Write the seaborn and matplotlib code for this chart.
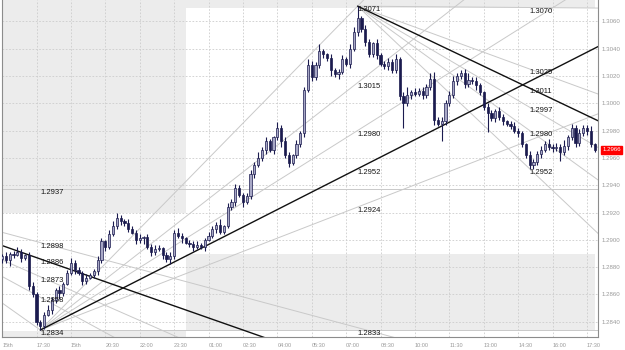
import numpy as np
import pandas as pd
import matplotlib
matplotlib.use("Agg")
import matplotlib.pyplot as plt
from matplotlib.patches import Rectangle
import seaborn as sns

# ---------------- data ----------------
bar_step_hours = 1 / 6          # 10-minute candles, time in hours from 16:00 (14th)
base_price = 1.2800
first_open_pips = 86
closes_pips = [
    88, 85, 90, 89, 91, 87, 89, 66, 60, 40,
    37, 45, 49, 56, 63, 61, 68, 76, 83, 78,
    76, 70, 72, 74, 77, 85, 99, 95, 104, 110,
    116, 114, 112, 108, 105, 100, 101, 102, 95, 91,
    93, 94, 89, 86, 88, 105, 103, 101, 98, 97,
    95, 96, 95, 100, 103, 108, 111, 106, 110, 124,
    128, 138, 133, 128, 132, 148, 155, 160, 166, 172,
    166, 175, 182, 172, 162, 156, 162, 170, 178, 210,
    228, 219, 228, 238, 236, 233, 224, 221, 223, 232,
    229, 240, 252, 262, 254, 245, 236, 244, 235, 229,
    227, 230, 224, 232, 205, 200, 206, 208, 207, 209,
    206, 212, 218, 188, 185, 187, 200, 206, 216, 220,
    222, 214, 217, 216, 213, 208, 197, 193, 189, 194,
    190, 187, 185, 183, 180, 178, 170, 162, 155, 157,
    163, 166, 170, 168, 167, 168, 164, 169, 175, 182,
    171, 178, 182, 180, 170, 166]
wick_up_pips = [
    2, 3, 1, 2, 4, 2, 1, 2, 3, 2, 1, 2, 3, 2, 2, 3, 1, 2, 4, 2,
    2, 1, 3, 2, 2, 3, 2, 1, 3, 4, 4, 2, 1, 3, 2, 2, 3, 1, 2, 2,
    3, 2, 1, 2, 3, 2, 4, 2, 1, 2, 2, 3, 2, 1, 3, 2, 2, 4, 1, 3,
    2, 3, 2, 1, 2, 3, 2, 4, 2, 3, 2, 1, 4, 2, 3, 2, 1, 3, 2, 2,
    4, 3, 2, 5, 2, 1, 3, 2, 2, 3, 2, 3, 4, 9, 2, 3, 2, 1, 3, 2,
    2, 3, 2, 4, 2, 3, 6, 2, 3, 2, 3, 2, 4, 5, 2, 3, 2, 3, 4, 2,
    2, 3, 5, 2, 3, 2, 1, 3, 2, 2, 3, 2, 1, 2, 3, 2, 2, 1, 3, 2,
    2, 3, 2, 4, 2, 3, 2, 4, 2, 3, 2, 3, 2, 2, 3, 1]
wick_dn_pips = [
    3, 2, 4, 2, 1, 3, 2, 3, 2, 2, 3, 2, 1, 3, 2, 4, 2, 1, 2, 3,
    2, 3, 2, 1, 2, 3, 2, 3, 2, 1, 2, 3, 2, 2, 1, 3, 2, 4, 2, 3,
    2, 1, 3, 2, 4, 2, 2, 3, 1, 2, 3, 2, 2, 3, 1, 2, 3, 2, 2, 1,
    2, 3, 2, 4, 2, 2, 3, 2, 2, 3, 2, 3, 2, 4, 2, 3, 1, 2, 2, 3,
    2, 3, 2, 2, 3, 2, 4, 2, 3, 2, 2, 3, 2, 3, 2, 3, 2, 2, 3, 2,
    2, 3, 2, 2, 3, 18, 2, 3, 2, 2, 3, 2, 2, 4, 2, 13, 3, 2, 2, 3,
    2, 3, 2, 2, 3, 2, 2, 14, 2, 3, 2, 3, 2, 2, 2, 3, 2, 2, 3, 3,
    2, 3, 2, 2, 3, 2, 6, 2, 3, 2, 3, 2, 2, 3, 2, 2]

xtick_hours = [0, 1.5, 3, 4.5, 6, 7.5, 9, 10.5, 12, 13.5, 15, 16.5, 18,
               19.5, 21, 22.5, 24, 25.5]
xtick_labels = ["15th", "17:30", "15th", "20:30", "22:00", "23:30", "01:00",
                "02:30", "04:00", "05:30", "07:00", "08:30", "10:00", "11:30",
                "13:00", "14:30", "16:00", "17:30"]
ytick_values = [1.2840, 1.2860, 1.2880, 1.2900, 1.2920, 1.2940, 1.2960,
                1.2980, 1.3000, 1.3020, 1.3040, 1.3060]
last_price_text = "1.2966"
last_price = 1.2966

# fans: origin (time, price), time of next swing, level prices at that time
fan_c_origin = (-7.0, 1.2937)
fan_c_target_time = 1.667
fan_c_levels = [1.2937, 1.2898, 1.2886, 1.2873, 1.2858, 1.2834]
fan_c_labels = ["1.2937", "1.2898", "1.2886", "1.2873", "1.2858", "1.2834"]
fan_c_bold = 1.2886

fan_a_origin = (1.667, 1.2834)
fan_a_target_time = 15.5
fan_a_levels = [1.2834, 1.2924, 1.2952, 1.2980, 1.3015, 1.3071]
fan_a_labels = ["1.2833", "1.2924", "1.2952", "1.2980", "1.3015", "1.3071"]
fan_a_bold = 1.2952

fan_b_origin = (15.5, 1.3071)
fan_b_target_time = 23.0
fan_b_levels = [1.3070, 1.3025, 1.3011, 1.2997, 1.2980, 1.2952]
fan_b_labels = ["1.3070", "1.3025", "1.3011", "1.2997", "1.2980", "1.2952"]
fan_b_bold = 1.3011

# shaded session boxes
box_times_left = (0.0, 8.0)
box_times_right = (8.0, 25.85)
box_left_prices = [(1.2920, 1.3080), (1.2800, 1.2833)]
box_right_prices = [(1.2833, 1.2890), (1.3070, 1.3080)]

# ---------------- style ----------------
sns.set_style("white")
plt.rcParams["font.family"] = ["Liberation Sans", "DejaVu Sans"]

W, H = 625, 350
fig = plt.figure(figsize=(W / 100, H / 100), dpi=100, facecolor="white")
left_px, right_px, top_px, bottom_px = 2.1, 598, 0, 337
ax = fig.add_axes([left_px / W, 1 - bottom_px / H,
                   (right_px - left_px) / W, (bottom_px - top_px) / H])
ax.set_facecolor("white")
x_max = 25.98
y_min, y_max = 1.28289, 1.30755
ax.set_xlim(0, x_max)
ax.set_ylim(y_min, y_max)

# boxes
for (p0, p1) in box_left_prices:
    ax.add_patch(Rectangle((box_times_left[0], p0), box_times_left[1] - box_times_left[0],
                           p1 - p0, fc="#ececec", ec="none", zorder=0.5))
for (p0, p1) in box_right_prices:
    ax.add_patch(Rectangle((box_times_right[0], p0), box_times_right[1] - box_times_right[0],
                           p1 - p0, fc="#ececec", ec="none", zorder=0.5))

# grid
for yv in ytick_values:
    ax.axhline(yv, color="#cccccc", lw=0.6, ls=(0, (2, 2)), zorder=1)
for xv in xtick_hours[1:]:
    ax.axvline(xv, color="#cccccc", lw=0.6, ls=(0, (2, 2)), zorder=1)

# fan lines
rows = []
labels = []
for name, (origin, tt, levels, labs, bold) in {
    "C": (fan_c_origin, fan_c_target_time, fan_c_levels, fan_c_labels, fan_c_bold),
    "A": (fan_a_origin, fan_a_target_time, fan_a_levels, fan_a_labels, fan_a_bold),
    "B": (fan_b_origin, fan_b_target_time, fan_b_levels, fan_b_labels, fan_b_bold),
}.items():
    h0, p0 = origin
    h_end = 40.0
    for lv, lab in zip(levels, labs):
        p_end = p0 + (lv - p0) * (h_end - h0) / (tt - h0)
        kind = "bold" if lv == bold else "thin"
        rows.append({"line": f"{name}{lv}", "kind": kind, "h": h0, "price": p0})
        rows.append({"line": f"{name}{lv}", "kind": kind, "h": h_end, "price": p_end})
        labels.append((tt, lv, lab))
lines_df = pd.DataFrame(rows)
sns.lineplot(data=lines_df[lines_df.kind == "thin"], x="h", y="price", units="line",
             estimator=None, color="#c9c9c9", lw=0.7, sort=False, ax=ax, zorder=2)
sns.lineplot(data=lines_df[lines_df.kind == "bold"], x="h", y="price", units="line",
             estimator=None, color="#111111", lw=1.0, sort=False, ax=ax, zorder=2.5)

# candles
closes = base_price + np.array(closes_pips) / 10000
opens = np.concatenate([[base_price + first_open_pips / 10000], closes[:-1]])
highs = np.maximum(opens, closes) + np.array(wick_up_pips) / 10000
lows = np.minimum(opens, closes) - np.array(wick_dn_pips) / 10000
t = np.arange(len(closes)) * bar_step_hours
dark = "#1b1b4f"
light = "#a8a8c6"
ax.vlines(t, lows, highs, color=dark, lw=0.8, zorder=3)
bull = closes > opens
body_h = np.abs(closes - opens)
body_b = np.minimum(opens, closes)
ax.bar(t[bull], body_h[bull], bottom=body_b[bull], width=0.095, color=light,
       edgecolor=dark, linewidth=0.5, zorder=4)
ax.bar(t[~bull], np.maximum(body_h[~bull], 0.00002), bottom=body_b[~bull], width=0.095,
       color=dark, edgecolor=dark, linewidth=0.5, zorder=4)

# fan labels
for (tt, lv, lab) in labels:
    ax.text(tt, lv, lab, ha="left", va="top", fontsize=5.5, color="#151515", zorder=5)

# axes
ax.yaxis.tick_right()
ax.set_yticks(ytick_values)
ax.set_yticklabels([f"{v:.4f}" for v in ytick_values], fontsize=4.4, color="#9a9a9a")
ax.set_xticks(xtick_hours)
ax.set_xticklabels(xtick_labels, fontsize=4.0, color="#9a9a9a", ha="left")
ax.tick_params(axis="y", length=0, pad=2.5)
ax.tick_params(axis="x", length=0, pad=4)
ax.set_xlabel("")
ax.set_ylabel("")
for s in ["left", "right", "bottom"]:
    ax.spines[s].set_color("#8c8c8c")
    ax.spines[s].set_linewidth(0.8)
ax.spines["top"].set_visible(False)

ax.annotate(last_price_text, xy=(1.0, last_price), xycoords=("axes fraction", "data"),
            xytext=(3, 0), textcoords="offset points", fontsize=4.4, color="white",
            va="center", ha="left",
            bbox=dict(boxstyle="square,pad=0.25", fc="#ff0000", ec="#ff0000"))

fig.savefig("out.png", dpi=100, facecolor="white")
